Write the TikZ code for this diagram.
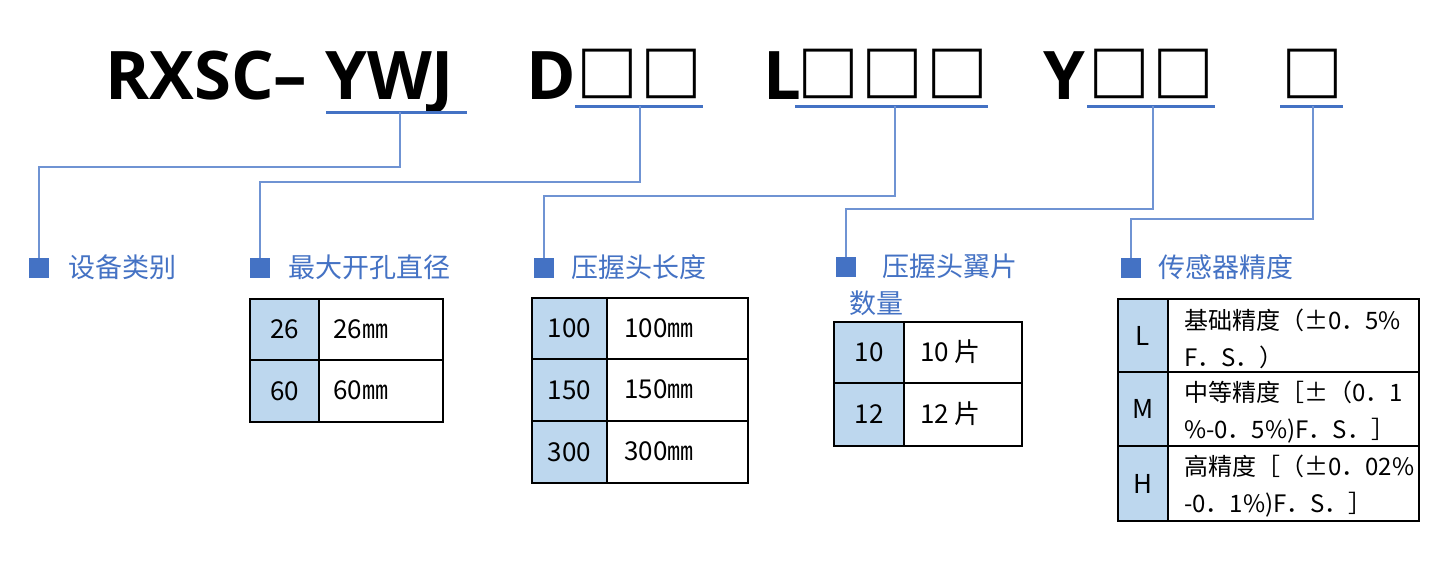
\documentclass[tikz,border=0pt]{standalone}
\usepackage{fontspec}
\setmainfont{Noto Sans CJK SC}
\newfontfamily\titlefont{Open Sans}
\newfontfamily\cjk{Noto Sans CJK SC}
\definecolor{mblue}{HTML}{4472C4}
\definecolor{lblue}{HTML}{BDD7EE}
\definecolor{cblue}{HTML}{6F93D3}
\tikzset{
  ttl/.style={font=\titlefont\bfseries\fontsize{67}{67}\selectfont, anchor=base west, inner sep=0pt},
  tbox/.style={font=\cjk\bfseries\fontsize{62}{62}\selectfont, anchor=center, inner sep=0pt},
  uline/.style={mblue, line width=3pt},
  conn/.style={cblue, line width=1.3pt},
  bullet/.style={fill=mblue, minimum size=20pt, inner sep=0pt},
  lab/.style={text=mblue, font=\cjk\fontsize{27}{37}\selectfont, anchor=base west, inner sep=0pt},
  grid/.style={black, line width=1.3pt},
  cell/.style={font=\cjk\fontsize{26}{26}\selectfont, inner sep=0pt},
  celltxt/.style={font=\cjk\fontsize{26}{26}\selectfont, inner sep=0pt, anchor=base west},
  longtxt/.style={font=\cjk\fontsize{24}{37}\selectfont, inner sep=0pt, anchor=west, align=left}
}
\begin{document}
\begin{tikzpicture}[x=1pt,y=-1pt]
\fill[white] (0,0) rectangle (1447,562);
\useasboundingbox (0,0) rectangle (1447,562);

% title
\node[ttl] (tA) at (105,99) {RXSC–};
\node[ttl] (tB) at (325,99) {YWJ};
\node[ttl] (tD) at (526,99) {D};
\node[tbox] (b1) at (607.5,74) {□};
\node[tbox] (b2) at (671,74) {□};
\node[ttl] (tL) at (763,99) {L};
\node[tbox] (b3) at (828,74) {□};
\node[tbox] (b4) at (892.5,74) {□};
\node[tbox] (b5) at (957,74) {□};
\node[ttl] (tY) at (1043,99) {Y};
\node[tbox] (b6) at (1119,74) {□};
\node[tbox] (b7) at (1183.5,74) {□};
\node[tbox] (b8) at (1312.5,74) {□};

% underlines
\coordinate (u1l) at (326,112); \coordinate (u1r) at (467,112); \coordinate (u1) at (400,112);
\coordinate (u2l) at (575,106); \coordinate (u2r) at (703,106); \coordinate (u2) at (640,106);
\coordinate (u3l) at (795,106); \coordinate (u3r) at (988,106); \coordinate (u3) at (895,106);
\coordinate (u4l) at (1087,106); \coordinate (u4r) at (1215,106); \coordinate (u4) at (1153,106);
\coordinate (u5l) at (1280,106); \coordinate (u5r) at (1343,106); \coordinate (u5) at (1313,106);
\draw[uline] (u1l) -- (u1r);
\draw[uline] (u2l) -- (u2r);
\draw[uline] (u3l) -- (u3r);
\draw[uline] (u4l) -- (u4r);
\draw[uline] (u5l) -- (u5r);

% bullets
\node[bullet] (s1) at (39,268) {};
\node[bullet] (s2) at (260,268) {};
\node[bullet] (s3) at (544,268) {};
\node[bullet] (s4) at (846,267) {};
\node[bullet] (s5) at (1131,268) {};

% connectors
\draw[conn] (u1) -- ++(0,55) -| (s1.north);
\draw[conn] (u2) -- ++(0,76) -| (s2.north);
\draw[conn] (u3) -- ++(0,90) -| (s3.north);
\draw[conn] (u4) -- ++(0,103) -| (s4.north);
\draw[conn] (u5) -- ++(0,113) -| (s5.north);

% labels
\node[lab] (l1) at (68,277) {设备类别};
\node[lab] (l2) at (288,277) {最大开孔直径};
\node[lab] (l3) at (571,277) {压握头长度};
\node[lab, anchor=north west, align=left] (l4) at (849,254) {\hspace*{33pt}压握头翼片\\数量};
\node[lab] (l5) at (1158,277) {传感器精度};

% table 1
\fill[lblue] (250,299) rectangle (319,422);
\draw[grid] (250,299) rectangle (443,422);
\draw[grid] (319,299) -- (319,422);
\draw[grid] (250,360) -- (443,360);
\node[cell] (t1a) at (284.5,329.5) {26};
\node[celltxt] (t1b) at (333,338) {26㎜};
\node[cell] (t1c) at (284.5,391) {60};
\node[celltxt] (t1d) at (333,399.5) {60㎜};

% table 2
\fill[lblue] (532,298) rectangle (607,483);
\draw[grid] (532,298) rectangle (748,483);
\draw[grid] (607,298) -- (607,483);
\draw[grid] (532,359) -- (748,359);
\draw[grid] (532,421) -- (748,421);
\node[cell] (t2a) at (569.5,328.5) {100};
\node[celltxt] (t2b) at (624,337) {100㎜};
\node[cell] (t2c) at (569.5,390) {150};
\node[celltxt] (t2d) at (624,398.5) {150㎜};
\node[cell] (t2e) at (569.5,452) {300};
\node[celltxt] (t2f) at (624,460.5) {300㎜};

% table 3
\fill[lblue] (834,322) rectangle (904,446);
\draw[grid] (834,322) rectangle (1022,446);
\draw[grid] (904,322) -- (904,446);
\draw[grid] (834,383) -- (1022,383);
\node[cell] (t3a) at (869,352.5) {10};
\node[celltxt] (t3b) at (920,361) {10 片};
\node[cell] (t3c) at (869,414.5) {12};
\node[celltxt] (t3d) at (920,423) {12 片};

% table 4
\fill[lblue] (1118,299) rectangle (1168,521);
\draw[grid] (1118,299) rectangle (1419,521);
\draw[grid] (1168,299) -- (1168,521);
\draw[grid] (1118,372) -- (1419,372);
\draw[grid] (1118,446) -- (1419,446);
\node[cell] (t4a) at (1143,335.5) {L};
\node[longtxt] (t4b) at (1184,338.5) {基础精度（±0．5\%\\F．S．）};
\node[cell] (t4c) at (1143,409) {M};
\node[longtxt] (t4d) at (1184,412) {中等精度［±（0．1\\\%-0．5\%)F．S．］};
\node[cell] (t4e) at (1143,483.5) {H};
\node[longtxt] (t4f) at (1184,486.5) {高精度［（±0．02\%\\-0．1\%)F．S．］};
\end{tikzpicture}
\end{document}
